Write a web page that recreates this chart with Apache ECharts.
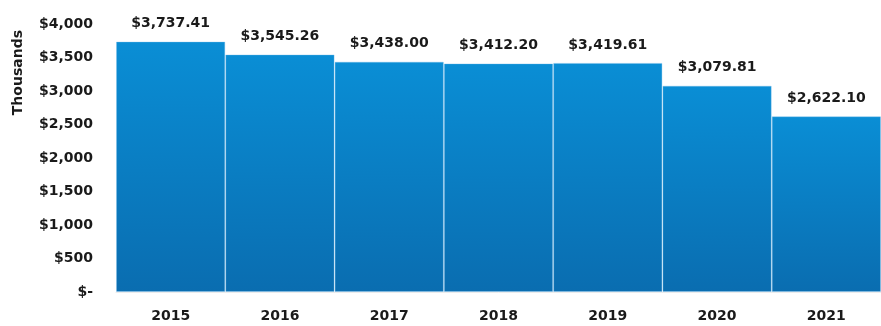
<!DOCTYPE html>
<html><head><meta charset="utf-8">
<script src="https://cdn.jsdelivr.net/npm/echarts@6/dist/echarts.min.js"></script>
<style>html,body{margin:0;padding:0;background:#fff}#c{width:881px;height:326px}</style>
</head><body><div id="c"></div>
<script>
const categories = ['2015','2016','2017','2018','2019','2020','2021'];
const values = [3737.41, 3545.26, 3438.00, 3412.20, 3419.61, 3079.81, 2622.10];
const yTicks = [0, 500, 1000, 1500, 2000, 2500, 3000, 3500, 4000];
const axisTitle = 'Thousands';

const font = '"DejaVu Sans", sans-serif';
const chart = echarts.init(document.getElementById('c'));
function money(v){ return '$' + v.toLocaleString('en-US',{minimumFractionDigits:2, maximumFractionDigits:2}); }
chart.setOption({
  animation:false,
  grid:{left:116, right:-12, top:24, bottom:34},
  xAxis:{type:'category', data:categories, offset:12,
    axisLine:{show:true, lineStyle:{color:'#ececec', width:1}},
    axisTick:{show:false},
    axisLabel:{color:'#1a1a1a', fontWeight:'bold', fontSize:14, fontFamily:font, margin:5}
  },
  yAxis:{type:'value', min:yTicks[0], max:yTicks[yTicks.length-1], interval:500,
    axisLine:{show:false}, axisTick:{show:false}, splitLine:{show:false},
    axisLabel:{color:'#1a1a1a', fontWeight:'bold', fontSize:14, fontFamily:font, margin:23,
      formatter:v=> v===0 ? '$-' : '$' + v.toLocaleString('en-US')}
  },
  graphic:[{type:'text', left:11, top:30, rotation:Math.PI/2,
    style:{text:axisTitle, fill:'#1a1a1a', font:'bold 14px '+font}}],
  series:[{type:'bar', data:values, barCategoryGap:'0%',
    itemStyle:{color:new echarts.graphic.LinearGradient(0,0,0,1,[{offset:0,color:'#0a8ed5'},{offset:1,color:'#0a6db0'}]),
      borderColor:'rgba(120,190,235,0.35)', borderWidth:1},
    label:{show:true, position:'top', distance:11, color:'#1a1a1a', fontWeight:'bold', fontSize:14, fontFamily:font,
      formatter:p=>money(p.value)}
  }]
});
</script></body></html>
